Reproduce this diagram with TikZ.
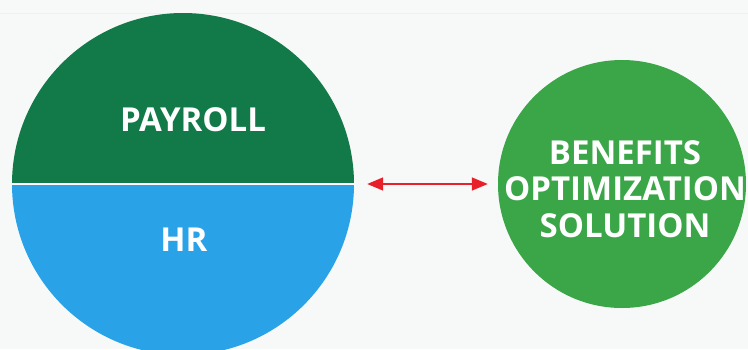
\documentclass[tikz,border=0pt]{standalone}
\usepackage{fontspec}
\setmainfont{Open Sans}
\usetikzlibrary{arrows.meta}
\definecolor{bgc}{RGB}{247,249,248}
\definecolor{topgreen}{RGB}{18,122,72}
\definecolor{hrblue}{RGB}{42,162,232}
\definecolor{solgreen}{RGB}{58,166,72}
\definecolor{arrred}{RGB}{232,32,42}
\tikzset{
  lbl/.style={text=white, font=\fontsize{33}{36.5}\selectfont\bfseries, align=center, inner sep=0pt},
  conn/.style={draw=arrred, line width=1.6pt, {Triangle[length=16pt,width=13pt]}-{Triangle[length=16pt,width=13pt]}}
}
\begin{document}
\begin{tikzpicture}[x=1pt,y=-1pt]
\useasboundingbox[fill=bgc] (0,0) rectangle (748,349);
\draw[black!6, line width=0.8pt] (0,13) -- (748,13);
\begin{scope}
\clip (0,0) rectangle (748,349);
\node[circle, minimum size=342pt, inner sep=0pt,
  path picture={
    \fill[topgreen] (path picture bounding box.north west) rectangle (path picture bounding box.east);
    \fill[hrblue] (path picture bounding box.west) rectangle (path picture bounding box.south east);
    \draw[white, line width=1.6pt] (path picture bounding box.west) -- (path picture bounding box.east);
  }] (big) at (183,184) {};
\end{scope}
\node[lbl] (pay) at (193,120) {PAYROLL};
\node[lbl] (hr) at (184,240) {HR};
\node[circle, fill=solgreen, minimum size=248pt, inner sep=0pt] (sol) at (622,184) {};
\node[lbl] (soltxt) at (625,189) {BENEFITS\\OPTIMIZATION\\SOLUTION};
\draw[conn] ([xshift=13pt]big.east) -- ([xshift=-10pt]sol.west);
\end{tikzpicture}
\end{document}
